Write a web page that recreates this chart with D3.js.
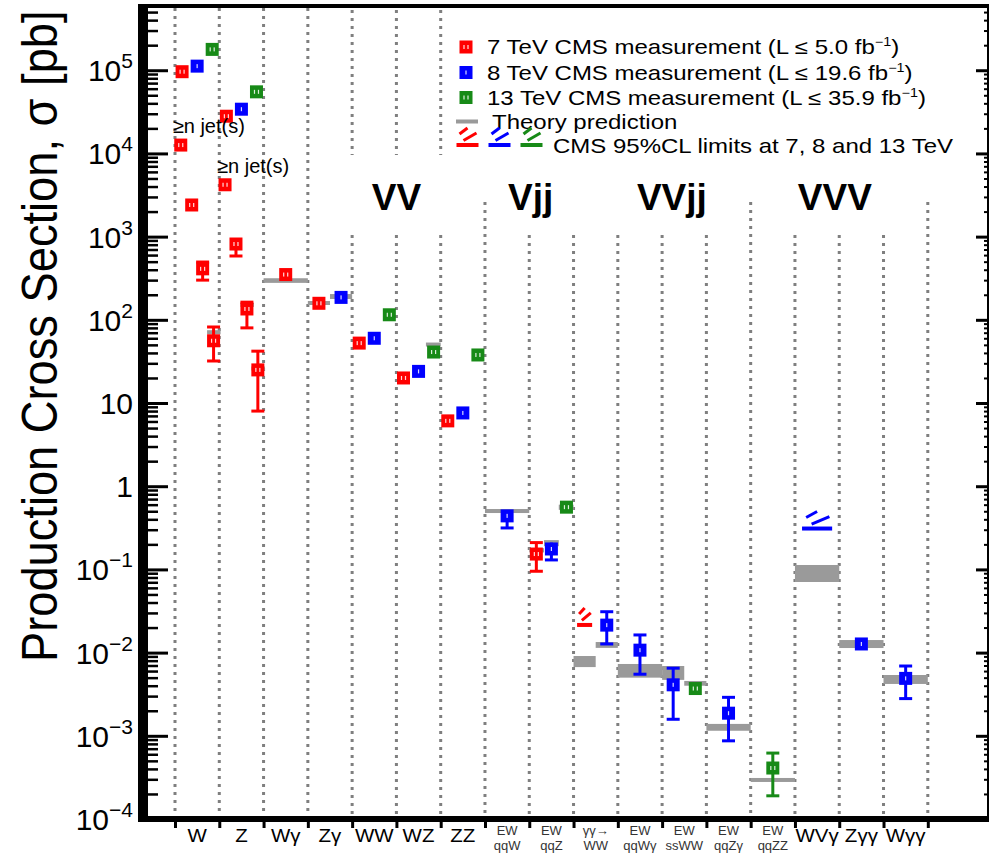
<!DOCTYPE html>
<html><head><meta charset="utf-8">
<script src="https://cdn.jsdelivr.net/npm/d3@7"></script>
<style>
html,body{margin:0;padding:0;background:#fff;}
svg{display:block;}
text{font-family:"Liberation Sans",Arial,Helvetica,sans-serif;fill:#000;}
</style></head><body>
<svg id="chart" width="989" height="854"></svg>
<script>
// ---- data -------------------------------------------------------------
const categories = ["W","Z","Wγ","Zγ","WW","WZ","ZZ","EW qqW","EW qqZ","γγ→WW","EW qqWγ","EW ssWW","EW qqZγ","EW qqZZ","WVγ","Zγγ","Wγγ"];
const categoryLabels = [["W"],["Z"],["Wγ"],["Zγ"],["WW"],["WZ"],["ZZ"],["EW","qqW"],["EW","qqZ"],["γγ→","WW"],["EW","qqWγ"],["EW","ssWW"],["EW","qqZγ"],["EW","qqZZ"],["WVγ"],["Zγγ"],["Wγγ"]];
const energies = ["7","8","13"];

// [category, sigma (pb), lower edge, upper edge]
const meas7 = [
  ["W", 9.6e4, 9.6e4, 9.6e4],
  ["Z", 2.8e4, 2.8e4, 2.8e4],
  ["Wγ", 350, 335, 365],
  ["Zγ", 158, 150, 166],
  ["WW", 52.5, 50, 55],
  ["WZ", 20, 19, 21],
  ["ZZ", 6.1, 5.7, 6.5],
  ["EW qqZ", 0.153, 0.095, 0.21]
];
const meas8 = [
  ["W", 1.12e5, 1.12e5, 1.12e5],
  ["Z", 3.4e4, 3.4e4, 3.4e4],
  ["Zγ", 186, 178, 194],
  ["WW", 60, 57, 63],
  ["WZ", 24, 23, 25],
  ["ZZ", 7.6, 7.2, 8.0],
  ["EW qqW", 0.44, 0.315, 0.50],
  ["EW qqZ", 0.176, 0.13, 0.21],
  ["γγ→WW", 0.0214, 0.0127, 0.031],
  ["EW qqWγ", 0.0107, 0.0055, 0.0163],
  ["EW ssWW", 0.0041, 0.00158, 0.0065],
  ["EW qqZγ", 0.00187, 0.00087, 0.0029],
  ["Zγγ", 0.0127, 0.0113, 0.0143],
  ["Wγγ", 0.0049, 0.0028, 0.0069]
];
const meas13 = [
  ["W", 1.78e5, 1.78e5, 1.78e5],
  ["Z", 5.5e4, 5.5e4, 5.5e4],
  ["WW", 115, 110, 120],
  ["WZ", 41, 39, 43],
  ["ZZ", 37.8, 36, 39.6],
  ["EW qqZ", 0.56, 0.52, 0.60],
  ["EW ssWW", 0.0037, 0.0031, 0.0044],
  ["EW qqZZ", 0.00041, 0.00019, 0.00062]
];
// 95% CL upper limits: [energy, category, sigma (pb)]
const limits = [
  ["7", "γγ→WW", 0.0215],
  ["8", "WVγ", 0.31]
];
// theory predictions: [category, energy (null = whole bin), low, high]
const theory = [
  ["Wγ", null, 278, 316],
  ["Zγ", "7", 151, 168],
  ["Zγ", "8", 178, 204],
  ["WZ", "13", 48.4, 52.6],
  ["EW qqW", null, 0.476, 0.532],
  ["EW qqZ", "7", 0.16, 0.18],
  ["EW qqZ", "8", 0.19, 0.225],
  ["EW qqZ", "13", 0.52, 0.60],
  ["γγ→WW", "7", 0.0067, 0.0091],
  ["γγ→WW", "8", 0.0114, 0.0134],
  ["EW qqWγ", null, 0.0050, 0.0073],
  ["EW ssWW", "8", 0.0047, 0.0069],
  ["EW ssWW", "13", 0.0040, 0.00456],
  ["EW qqZγ", null, 0.00115, 0.00139],
  ["EW qqZZ", null, 0.000279, 0.000311],
  ["WVγ", null, 0.0706, 0.113],
  ["Zγγ", null, 0.01135, 0.01416],
  ["Wγγ", null, 0.0042, 0.00538]
];
// 7 TeV exclusive-jet series, n = 1..4: [sigma, low, high, theory]
const wJets = [[1.26e4, null, null, null], [2.4e3, null, null, null], [410, 300, 495, null], [56, 32, 82, 71]];
const zJets = [[4.2e3, null, null, null], [815, 585, 962, null], [135, 80, 163, 151], [25, 8.0, 42, 26]];
const groups = [["VV", 5.0], ["Vjj", 8.03], ["VVjj", 11.22], ["VVV", 14.9]];
const yDecades = [-4, -3, -2, -1, 0, 1, 2, 3, 4, 5];

// ---- layout -----------------------------------------------------------
const colors = {"7": "#ff0000", "8": "#0000ff", "13": "#178a17"};
const theoryColor = "#9a9a9a";
const svg = d3.select("#chart");
const x = d3.scaleBand().domain(categories).range([175, 927.8]).paddingInner(0).paddingOuter(0);
const bw = x.bandwidth();
const edges = d3.scaleLinear().domain([0, categories.length]).range(x.range());
const y = d3.scaleLog().domain([1e-4, Math.pow(10, 5.772)]).range([819, 6]);
const MS = 13;

// which energies occupy each bin (decides horizontal slots)
const present = {};
categories.forEach(c => present[c] = new Set());
[["7", meas7], ["8", meas8], ["13", meas13]].forEach(([e, arr]) => arr.forEach(d => present[d[0]].add(e)));
limits.forEach(d => present[d[1]].add(d[0]));
function slots(cat, e) {
  const list = energies.filter(en => present[cat].has(en));
  return {n: list.length, j: list.indexOf(e)};
}
function offset(cat, e) {
  const s = slots(cat, e);
  const table = s.n === 1 ? [0] : s.n === 2 ? [-0.25, 0.25] : [-0.34, 0, 0.34];
  return table[s.j];
}
const cxOf = (cat, off) => x(cat) + bw * (0.5 + off);

// ---- dotted bin separators ---------------------------------------------
const sepTop = [6, 6, 6, 6, 233, 233, 233, 200, 233, 233, 233, 233, 233, 200, 233, 233, 233, 200];
const gSep = svg.append("g").attr("stroke", "#7f7f7f").attr("stroke-width", 3).attr("stroke-dasharray", "3,5");
d3.range(categories.length + 1).forEach(i => {
  const xx = edges(i);
  gSep.append("line").attr("x1", xx).attr("x2", xx).attr("y1", sepTop[i] + 2).attr("y2", 816);
  if (i >= 4) gSep.append("line").attr("x1", xx).attr("x2", xx).attr("y1", 10).attr("y2", 155);
});

// ---- legend box ----------------------------------------------------------
svg.append("rect").attr("x", 446).attr("y", 9).attr("width", 539).attr("height", 152).attr("fill", "#fff");

// ---- process-group titles -------------------------------------------------
svg.append("g").selectAll("text").data(groups).join("text")
  .attr("x", d => edges(d[1])).attr("y", 210)
  .attr("text-anchor", "middle").attr("font-size", 37).attr("font-weight", "bold")
  .text(d => d[0]);

// ---- theory bands ------------------------------------------------------------
const gTh = svg.append("g").attr("fill", theoryColor);
function bandRect(x0, x1, lo, hi) {
  let yTop = y(hi), yBot = y(lo);
  if (yBot - yTop < 4) { const m = (yTop + yBot) / 2; yTop = m - 2; yBot = m + 2; }
  gTh.append("rect").attr("x", x0).attr("y", yTop).attr("width", x1 - x0).attr("height", yBot - yTop);
}
theory.forEach(([cat, e, lo, hi]) => {
  let f0 = 0, f1 = 1;
  if (e) { const s = slots(cat, e); f0 = s.j / s.n; f1 = (s.j + 1) / s.n; }
  bandRect(x(cat) + bw * f0, x(cat) + bw * f1, lo, hi);
});
const jetOffset = k => -0.37 + k * 0.247;
[["W", wJets], ["Z", zJets]].forEach(([cat, arr]) => arr.forEach((d, k) => {
  if (d[3] == null) return;
  const c = cxOf(cat, jetOffset(k));
  bandRect(c - 6.5, c + 7, d[3], d[3]);
}));

// ---- measurements ------------------------------------------------------------
const gPts = svg.append("g");
function marker(g, cx, cy, color, e) {
  g.append("rect").attr("x", cx - MS / 2).attr("y", cy - MS / 2).attr("width", MS).attr("height", MS).attr("fill", color);
  const ticks = e === "8" ? [0] : [-2, 2];
  ticks.forEach(t => g.append("rect").attr("x", cx + t - 0.6).attr("y", cy - 2).attr("width", 1.2).attr("height", 4).attr("fill", "#fff").attr("opacity", 0.85));
}
function point(cx, v, lo, hi, color, e) {
  const cy = y(v);
  if (lo != null && hi != null) {
    const y1 = y(hi), y2 = y(lo);
    if (cy - y1 > MS / 2 || y2 - cy > MS / 2) {
      gPts.append("line").attr("x1", cx).attr("x2", cx).attr("y1", y1).attr("y2", y2)
        .attr("stroke", color).attr("stroke-width", 3);
    }
    [[y1, cy - y1], [y2, y2 - cy]].forEach(([ye, dist]) => {
      if (dist > MS / 2) gPts.append("line").attr("x1", cx - 6.5).attr("x2", cx + 6.5).attr("y1", ye).attr("y2", ye)
        .attr("stroke", color).attr("stroke-width", 3);
    });
  }
  marker(gPts, cx, cy, color, e);
}
[["7", meas7], ["8", meas8], ["13", meas13]].forEach(([e, arr]) => arr.forEach(([cat, v, lo, hi]) => {
  point(cxOf(cat, offset(cat, e)), v, lo, hi, colors[e], e);
}));
[["W", wJets], ["Z", zJets]].forEach(([cat, arr]) => {
  arr.forEach((d, k) => point(cxOf(cat, jetOffset(k)), d[0], d[1], d[2], colors["7"], "7"));
  const c0 = cxOf(cat, jetOffset(0)), y0 = y(arr[0][0]);
  svg.append("text").attr("x", c0 - 8).attr("y", y0 - 12).attr("font-size", 20).text("≥n jet(s)");
});

// limit symbol: base bar with two hatch strokes
function limitSymbol(g, cx, cy, w, color) {
  const k = w / 22;
  g.append("rect").attr("x", cx - w / 2).attr("y", cy - 2).attr("width", w).attr("height", 4).attr("fill", color);
  g.append("line").attr("x1", cx - 4 * k).attr("y1", cy - 4.5).attr("x2", cx + 9 * k).attr("y2", cy - 12)
    .attr("stroke", color).attr("stroke-width", 3);
  g.append("line").attr("x1", cx - 8 * k).attr("y1", cy - 11).attr("x2", cx).attr("y2", cy - 17)
    .attr("stroke", color).attr("stroke-width", 3);
}
limits.forEach(([e, cat, v]) => {
  const s = slots(cat, e);
  limitSymbol(gPts, cxOf(cat, offset(cat, e)), y(v), 0.68 * bw / s.n, colors[e]);
});

// ---- frame and axes ---------------------------------------------------------
svg.append("rect").attr("x", 138).attr("y", 4).attr("width", 851).attr("height", 4).attr("fill", "#000");
svg.append("rect").attr("x", 138).attr("y", 816).attr("width", 851).attr("height", 6).attr("fill", "#000");
svg.append("rect").attr("x", 138).attr("y", 4).attr("width", 10).attr("height", 818).attr("fill", "#000");
svg.append("rect").attr("x", 987).attr("y", 4).attr("width", 4).attr("height", 818).attr("fill", "#000");

const majors = yDecades.map(d => Math.pow(10, d));
const minors = [];
yDecades.forEach(d => d3.range(2, 10).forEach(m => { const v = m * Math.pow(10, d); if (v <= y.domain()[1]) minors.push(v); }));
function styleAxis(g, w) { g.select(".domain").remove(); g.selectAll("line").attr("stroke", "#000").attr("stroke-width", w); g.selectAll("text").remove(); }
svg.append("g").attr("transform", "translate(146,0)").call(d3.axisRight(y).tickValues(majors).tickSize(22).tickFormat(() => "")).call(g => styleAxis(g, 3));
svg.append("g").attr("transform", "translate(146,0)").call(d3.axisRight(y).tickValues(minors).tickSize(12).tickFormat(() => "")).call(g => styleAxis(g, 2.5));
svg.append("g").attr("transform", "translate(989,0)").call(d3.axisLeft(y).tickValues(majors).tickSize(13).tickFormat(() => "")).call(g => styleAxis(g, 3));
svg.append("g").attr("transform", "translate(989,0)").call(d3.axisLeft(y).tickValues(minors).tickSize(5).tickFormat(() => "")).call(g => styleAxis(g, 2));
svg.append("g").attr("transform", "translate(0,821)").call(d3.axisBottom(edges).tickValues(d3.range(categories.length + 1)).tickSize(7).tickFormat(() => "")).call(g => styleAxis(g, 3));

// y tick labels
const gYL = svg.append("g");
yDecades.forEach(d => {
  const t = gYL.append("text").attr("x", 133).attr("y", y(Math.pow(10, d)) + 11).attr("text-anchor", "end").attr("font-size", 30);
  if (d === 0) t.text("1");
  else if (d === 1) t.text("10");
  else {
    t.append("tspan").text("10");
    t.append("tspan").attr("dy", -13).attr("font-size", 21).text(d < 0 ? "−" + (-d) : String(d));
  }
});
// y title
svg.append("text").attr("transform", "translate(57,662) rotate(-90) scale(0.905,1)")
  .attr("font-size", 50).text("Production Cross Section, σ [pb]");

// category labels
const gXL = svg.append("g");
categories.forEach((c, i) => {
  const lines = categoryLabels[i];
  const cx = x(c) + bw / 2;
  if (lines.length === 1) {
    gXL.append("text").attr("transform", `translate(${cx},842) scale(1.14,1)`).attr("text-anchor", "middle")
      .attr("font-size", 18).text(lines[0]);
  } else {
    lines.forEach((l, k) => gXL.append("text").attr("x", cx).attr("y", 835 + k * 15).attr("text-anchor", "middle")
      .attr("font-size", 13).style("fill", "#333").text(l));
  }
});

// ---- legend entries -----------------------------------------------------
const gLeg = svg.append("g");
const legRows = [47, 72.5, 97.5, 121.5, 146];
const legFont = 20, legStretch = 1.2;
const legText = [["7", "7 TeV CMS measurement (L ≤ 5.0 fb"], ["8", "8 TeV CMS measurement (L ≤ 19.6 fb"], ["13", "13 TeV CMS measurement (L ≤ 35.9 fb"]];
legText.forEach(([e, s], i) => {
  marker(gLeg, 466, legRows[i], colors[e], e);
  const t = gLeg.append("text").attr("transform", `translate(487,${legRows[i] + 7}) scale(${legStretch},1)`).attr("font-size", legFont);
  t.append("tspan").text(s);
  t.append("tspan").attr("dy", -8).attr("font-size", 12).text("−1");
  t.append("tspan").attr("dy", 8).text(")");
});
gLeg.append("rect").attr("x", 456).attr("y", legRows[3] - 2).attr("width", 22).attr("height", 4).attr("fill", theoryColor);
gLeg.append("text").attr("transform", `translate(492,${legRows[3] + 7}) scale(${legStretch},1)`).attr("font-size", legFont).text("Theory prediction");
energies.forEach((e, i) => limitSymbol(gLeg, 467.5 + i * 32, legRows[4] - 1, 22, colors[e]));
gLeg.append("text").attr("transform", `translate(553,${legRows[4] + 7}) scale(${legStretch},1)`).attr("font-size", legFont).text("CMS 95%CL limits at 7, 8 and 13 TeV");
</script>
</body></html>
